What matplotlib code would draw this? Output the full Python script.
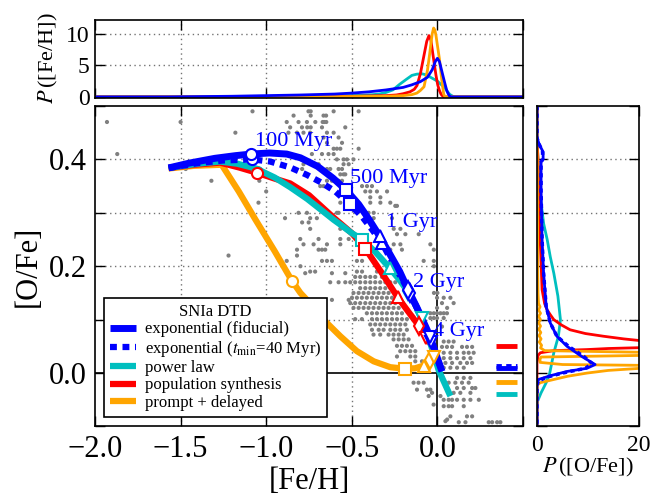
import matplotlib
matplotlib.use("Agg")
import matplotlib.pyplot as plt
from matplotlib.ticker import FixedLocator, FuncFormatter, NullFormatter

plt.rcParams['font.family'] = ['Liberation Serif', 'DejaVu Serif']
plt.rcParams['mathtext.fontset'] = 'stix'
plt.rcParams['axes.unicode_minus'] = True

BLUE = '#0000ff'
CYAN = '#00bfbf'
RED = '#ff0000'
ORANGE = '#ffa500'
GREY = '#808080'

# ---------------- evolution tracks in the [Fe/H]-[O/Fe] plane ----------------
blue_feh = [-1.57, -1.45, -1.30, -1.18, -1.089, -0.98, -0.88, -0.80, -0.70, -0.61,
            -0.534, -0.46, -0.40, -0.337, -0.28, -0.22, -0.177, -0.12, -0.06, -0.03,
            0.0, 0.027]
blue_ofe = [0.384, 0.393, 0.402, 0.407, 0.410, 0.412, 0.410, 0.403, 0.387, 0.365,
            0.343, 0.316, 0.288, 0.256, 0.224, 0.190, 0.160, 0.123, 0.081, 0.056,
            0.028, 0.003]

bluemin_feh = [-1.57, -1.40, -1.25, -1.08, -0.977, -0.86, -0.762, -0.68, -0.596,
               -0.513, -0.44, -0.38, -0.323, -0.25, -0.16, -0.10, -0.04, 0.0, 0.027]
bluemin_ofe = [0.384, 0.393, 0.398, 0.400, 0.396, 0.385, 0.371, 0.357, 0.340,
               0.316, 0.293, 0.268, 0.243, 0.200, 0.150, 0.108, 0.058, 0.026, 0.005]

cyan_feh = [-1.57, -1.40, -1.27, -1.17, -1.06, -0.95, -0.86, -0.76, -0.665, -0.606,
            -0.567, -0.50, -0.44, -0.36, -0.279, -0.22, -0.174, -0.13, -0.09, -0.04,
            0.008, 0.076]
cyan_ofe = [0.384, 0.392, 0.396, 0.392, 0.383, 0.366, 0.348, 0.326, 0.302, 0.287,
            0.278, 0.262, 0.250, 0.226, 0.197, 0.174, 0.153, 0.129, 0.103, 0.055,
            0.005, -0.043]

red_feh = [-1.57, -1.42, -1.27, -1.16, -1.054, -0.95, -0.86, -0.75, -0.606, -0.50,
           -0.421, -0.33, -0.232, -0.17, -0.109, -0.064, -0.03]
red_ofe = [0.384, 0.390, 0.394, 0.385, 0.375, 0.364, 0.355, 0.333, 0.291, 0.262,
           0.233, 0.190, 0.142, 0.115, 0.089, 0.066, 0.050]

orange_feh = [-1.57, -1.42, -1.26, -1.16, -1.064, -0.95, -0.85, -0.80, -0.762, -0.665,
              -0.567, -0.47, -0.372, -0.275, -0.187, -0.13, -0.08, -0.045, -0.018, 0.0]
orange_ofe = [0.383, 0.388, 0.390, 0.340, 0.288, 0.228, 0.173, 0.150, 0.137, 0.100,
              0.069, 0.041, 0.022, 0.011, 0.008, 0.009, 0.014, 0.023, 0.030, 0.036]

# ages marked along each track
age_labels = ['100 Myr', '500 Myr', '1 Gyr', '2 Gyr', '4 Gyr']
age_symbols = ['o', 's', '^', 'd', 'v']
blue_age_feh = [-1.089, -0.534, -0.337, -0.170, -0.045]
blue_age_ofe = [0.410, 0.343, 0.256, 0.155, 0.068]
bluemin_age_feh = [-1.08, -0.513, -0.323, -0.160, -0.040]
bluemin_age_ofe = [0.400, 0.316, 0.243, 0.150, 0.058]
cyan_age_feh = [-1.056, -0.44, -0.279, -0.174, -0.09]
cyan_age_ofe = [0.377, 0.250, 0.197, 0.153, 0.103]
red_age_feh = [-1.054, -0.421, -0.232, -0.109, -0.064]
red_age_ofe = [0.375, 0.233, 0.142, 0.089, 0.066]
orange_age_feh = [-0.85, -0.187, -0.08, -0.045, -0.018]
orange_age_ofe = [0.173, 0.008, 0.014, 0.025, 0.030]

# age label anchor points (left edge, vertical centre)
label_feh = [-1.065, -0.512, -0.300, -0.145, -0.024]
label_ofe = [0.433, 0.365, 0.282, 0.169, 0.077]

# present-day [O/Fe] of each model
final_ofe_red = 0.051
final_ofe_blue = 0.010
final_ofe_bluemin = 0.0125
final_ofe_orange = -0.017
final_ofe_cyan = -0.040
final_feh_span = [0.343, 0.465]

# ---------------- observed stars ----------------
star_ofe_levels = [0.49, 0.482, 0.47, 0.46, 0.45, 0.441, 0.431, 0.42, 0.41, 0.40,
                   0.391, 0.382, 0.372, 0.36, 0.35, 0.34, 0.329, 0.319, 0.313, 0.30,
                   0.29, 0.282, 0.27, 0.26, 0.251, 0.241, 0.231, 0.22, 0.21, 0.20,
                   0.19, 0.187, 0.18, 0.17, 0.159, 0.15, 0.141, 0.137, 0.131, 0.122,
                   0.112, 0.103, 0.101, 0.091, 0.087, 0.081, 0.072, 0.063, 0.059, 0.051,
                   0.049, 0.041, 0.038, 0.031, 0.028, 0.022, 0.019, 0.010, -0.009, -0.018,
                   -0.028, -0.031, -0.037, -0.043, -0.050, -0.059, -0.062, -0.081, -0.087,
                   -0.090, -0.092]
star_feh_rows = [
    [-1.08, -0.753, -0.74, -0.606, -0.46],
    [-0.84, -0.74, -0.665, -0.65],
    [-1.93, -1.50, -0.88, -0.811, -0.762, -0.713, -0.67, -0.661, -0.649],
    [-0.86, -0.791, -0.76, -0.74, -0.674, -0.538],
    [-1.18, -0.87, -0.82, -0.782, -0.743, -0.645, -0.606],
    [-0.665, -0.577],
    [-0.645, -0.557],
    [-0.606, -0.587, -0.567, -0.46],
    [-1.87, -0.733, -0.674, -0.636, -0.606],
    [-0.587, -0.548, -0.528, -0.49],
    [-0.782, -0.694, -0.548, -0.518],
    [-1.47, -0.79, -0.684, -0.645, -0.626, -0.577, -0.557],
    [-0.567, -0.548, -0.538],
    [-1.32, -1.04, -0.645, -0.616, -0.577, -0.557],
    [-0.684, -0.665, -0.44, -0.411, -0.382],
    [-1.00, -0.421, -0.392, -0.353, -0.294],
    [-0.392, -0.333],
    [-1.045, -0.733, -0.567, -0.392, -0.333, -0.275],
    [-0.246, -0.236],
    [-0.811, -0.762, -0.645, -0.587, -0.577, -0.402, -0.372],
    [-0.89, -0.743, -0.704, -0.616, -0.372, -0.265],
    [-0.79, -0.752, -0.587],
    [-0.743, -0.567, -0.255, -0.216],
    [-0.236, -0.187, -0.109],
    [-0.801, -0.694, -0.567, -0.518],
    [-0.782, -0.723, -0.645, -0.567, -0.255, -0.216, -0.041],
    [-0.82, -0.694, -0.674, -0.655, -0.275, -0.207, -0.021],
    [-1.22, -0.82],
    [-0.88, -0.674, -0.645, -0.616, -0.47, -0.44, -0.08, -0.021],
    [-0.80, -0.02],
    [-0.743, -0.714, -0.47, -0.44, -0.353, -0.285, -0.236],
    [-0.772, -0.616, -0.538],
    [-0.48, -0.451, -0.421, -0.392, -0.363, -0.324],
    [-0.626, -0.577, -0.538, -0.509, -0.480, -0.451, -0.421, -0.392, -0.363, -0.334,
     -0.304, -0.275, -0.246],
    [-0.451, -0.421, -0.392, -0.363, -0.334, -0.304, -0.275],
    [-0.490, -0.460, -0.431, -0.402, -0.373, -0.343, -0.314, -0.285, -0.02, 0.0],
    [-0.499, -0.470, -0.441, -0.412, -0.382, -0.353, -0.324, -0.295, -0.265, -0.002,
     0.037, 0.076],
    [-0.616, -0.518],
    [-0.509, -0.480, -0.451, -0.421, -0.392, -0.363, -0.334, -0.304, -0.275, -0.246,
     0.027, 0.095],
    [-0.490, -0.460, -0.431, -0.402, -0.373, -0.343, -0.314, -0.285, -0.256, -0.226,
     -0.002, 0.057],
    [-0.412, -0.382, -0.353, -0.324, -0.295, -0.265, -0.236, -0.207, -0.041, -0.021,
     -0.002, 0.018, 0.037, 0.056],
    [-0.041, -0.021, -0.002, 0.037],
    [-0.480, -0.441, -0.382, -0.353, -0.324, -0.295, -0.265, -0.236, -0.207, -0.178],
    [-0.392, -0.363, -0.334, -0.304, -0.275, -0.246, -0.217, -0.187],
    [0.027],
    [-0.382, -0.343, -0.314, -0.275, -0.246, -0.217, -0.178],
    [-0.373, -0.334, -0.285, -0.256, -0.226, -0.197],
    [-0.256, -0.226, -0.197, -0.168],
    [0.037, 0.066, 0.095],
    [-0.236, -0.207, -0.178, -0.148],
    [0.027, 0.056, 0.086, 0.144, 0.173, 0.203],
    [-0.217, -0.187, -0.158, -0.129],
    [0.037, 0.076, 0.115, 0.154, 0.183, 0.212],
    [-0.236, -0.158, -0.129],
    [0.037, 0.076, 0.115, 0.154, 0.193],
    [-0.129, -0.090],
    [0.047, 0.086, 0.134, 0.173, 0.203],
    [0.037, 0.076, 0.115, 0.154],
    [0.115, 0.154, 0.193],
    [-0.139, -0.110, -0.080, 0.066, 0.105, 0.144, 0.183],
    [0.115, 0.154, 0.203, 0.222],
    [-0.119, -0.061, -0.041],
    [-0.031, 0.095, 0.134, 0.193],
    [-0.051, 0.018],
    [0.037, 0.066, 0.086, 0.115, 0.154, 0.193, 0.242],
    [-0.022],
    [0.037, 0.066, 0.086, 0.154],
    [0.076, 0.173, 0.203],
    [0.057],
    [0.047],
    [0.125, 0.164, 0.300, 0.320, 0.349, 0.368],
]
star_feh = [x for row in star_feh_rows for x in row]
star_ofe = [y for y, row in zip(star_ofe_levels, star_feh_rows) for _ in row]

# ---------------- metallicity distributions (top panel) ----------------
blue_mdf_feh = [-2.0, -1.57, -1.2, -1.0, -0.8, -0.6, -0.5, -0.4, -0.3, -0.2, -0.15, -0.1,
                -0.058, -0.03, -0.012, 0.0, 0.012, 0.022, 0.032, 0.045, 0.055, 0.063,
                0.072, 0.08, 0.5]
blue_mdf = [0, 0, 0.1, 0.2, 0.3, 0.45, 0.6, 0.8, 1.1, 1.5, 1.9, 2.4, 3.1, 4.3, 5.6, 6.1,
            5.6, 4.5, 3.4, 2.0, 1.0, 0.5, 0.1, 0, 0]
cyan_mdf_feh = [-2.0, -1.27, -0.9, -0.6, -0.45, -0.38, -0.34, -0.3, -0.26, -0.22, -0.18,
                -0.149, -0.12, -0.089, -0.06, -0.04, -0.02, 0.0, 0.02, 0.042, 0.06,
                0.072, 0.09, 0.102, 0.5]
cyan_mdf = [0, 0, 0.05, 0.15, 0.25, 0.35, 0.45, 0.7, 1.1, 2.0, 2.8, 3.4, 3.6, 3.65, 3.45,
            3.1, 2.8, 2.5, 2.0, 1.5, 0.8, 0.4, 0.1, 0, 0]
red_mdf_feh = [-2.0, -1.27, -0.8, -0.5, -0.3, -0.24, -0.2, -0.16, -0.135, -0.119, -0.099,
               -0.078, -0.062, -0.049, -0.038, -0.028, -0.018, -0.008, 0.002, 0.012,
               0.022, 0.032, 0.04, 0.5]
red_mdf = [0, 0, 0.05, 0.1, 0.2, 0.3, 0.5, 0.8, 1.2, 1.8, 3.7, 6.6, 8.8, 9.7, 9.0, 7.1,
           5.2, 3.4, 1.9, 1.0, 0.4, 0.1, 0, 0]
orange_mdf_feh = [-2.0, -1.26, -0.8, -0.5, -0.3, -0.2, -0.15, -0.12, -0.1, -0.078, -0.058,
                  -0.045, -0.038, -0.03, -0.022, -0.015, -0.008, 0.0, 0.012, 0.02, 0.028,
                  0.037, 0.045, 0.5]
orange_mdf = [0, 0, 0.03, 0.06, 0.1, 0.2, 0.35, 0.6, 1.0, 1.6, 4.2, 6.8, 8.4, 10.0, 10.9,
              10.6, 9.7, 8.2, 6.0, 4.0, 2.2, 0.4, 0, 0]

# ---------------- [O/Fe] distributions (right panel) ----------------
blue_podf_ofe = [0.5, 0.44, 0.427, 0.414, 0.40, 0.395, 0.343, 0.25, 0.187, 0.125, 0.094,
                 0.069, 0.05, 0.031, 0.016, 0.009, 0.003, -0.005, -0.012, -0.022, -0.1]
blue_podf = [0, 0, 0.5, 1.2, 1.2, 0.8, 0.8, 1.0, 1.3, 1.8, 2.6, 3.9, 5.9, 8.8, 11.4, 9.8,
             5.9, 2.6, 0.3, 0, 0]
bluemin_podf_ofe = [0.5, 0.44, 0.427, 0.414, 0.40, 0.395, 0.343, 0.25, 0.187, 0.125,
                    0.094, 0.069, 0.05, 0.031, 0.018, 0.009, 0.0, -0.008, -0.015, -0.022,
                    -0.1]
bluemin_podf = [0, 0, 0.5, 1.1, 1.1, 0.8, 0.8, 1.0, 1.3, 1.8, 2.6, 3.9, 6.2, 9.2, 10.8,
                9.5, 5.0, 1.8, 0.3, 0, 0]
cyan_podf_ofe = [0.5, 0.44, 0.427, 0.40, 0.343, 0.28, 0.25, 0.218, 0.187, 0.144, 0.10,
                 0.069, 0.038, 0.0, -0.018, -0.037, -0.053, -0.06, -0.1]
cyan_podf = [0, 0, 0.05, 0.2, 0.5, 1.3, 2.0, 2.6, 3.3, 4.1, 4.6, 4.2, 3.3, 2.5, 1.8, 0.8,
             0.1, 0, 0]
red_podf_ofe = [0.5, 0.44, 0.40, 0.34, 0.28, 0.22, 0.156, 0.13, 0.118, 0.108, 0.10, 0.09,
                0.081, 0.074, 0.069, 0.064, 0.061, 0.057, 0.052, 0.048, 0.046, 0.044,
                0.042, 0.038, 0.033, 0.025, 0.02, -0.1]
red_podf = [0, 0, 0.2, 0.35, 0.5, 0.75, 1.0, 1.5, 2.0, 2.7, 3.3, 4.8, 6.5, 9.5, 13, 17, 20,
            26, 30, 22, 14, 9.8, 3.3, 0.65, 0.2, 0.1, 0, 0]
orange_podf_ofe = [0.5, 0.40, 0.30, 0.20, 0.15, 0.13, 0.124, 0.118, 0.112, 0.106, 0.100,
                   0.094, 0.088, 0.082, 0.076, 0.070, 0.064, 0.058, 0.052, 0.047, 0.042,
                   0.039, 0.036, 0.033, 0.030, 0.026, 0.020, 0.016, 0.013, 0.010, 0.005,
                   0.0, -0.006, -0.012, -0.018, -0.022, -0.1]
orange_podf = [0, 0.05, 0.1, 0.15, 0.2, 0.3, 0.6, 0.3, 0.7, 0.3, 0.7, 0.3, 0.7, 0.35, 0.75,
               0.4, 0.8, 0.45, 0.9, 0.7, 1.5, 20, 45, 20, 0.8, 0.6, 0.6, 5, 35, 22, 14,
               9.8, 6, 3.3, 0.65, 0.1, 0]

# ---------------- figure layout ----------------
fig = plt.figure(figsize=(6.52, 4.95), dpi=100)
ax = fig.add_axes([0.1457, 0.1384, 0.6564, 0.6475])
axt = fig.add_axes([0.1457, 0.803, 0.6564, 0.157])
axr = fig.add_axes([0.8236, 0.1384, 0.1564, 0.6475])

dot = (0, (1, 2.5))
for a in (ax, axt, axr):
    for s in a.spines.values():
        s.set_linewidth(1.2)
    a.tick_params(which='both', direction='in', top=True, right=True,
                  length=7, width=1.0)

# ---- main panel ----
ax.set_xlim(-2.0, 0.5)
ax.set_ylim(-0.1, 0.5)
for gx in (-1.5, -1.0, -0.5):
    ax.axvline(gx, color='0.45', lw=1.0, ls=dot, zorder=0)
for gy in (0.1, 0.2, 0.3, 0.4):
    ax.axhline(gy, color='0.45', lw=1.0, ls=dot, zorder=0)
ax.axvline(0.0, color='black', lw=1.2, zorder=0.5)
ax.axhline(0.0, color='black', lw=1.2, zorder=0.5)

ax.scatter(star_feh, star_ofe, s=9, color=GREY, edgecolors='none', zorder=1)

track_lw = 4.5
l_or, = ax.plot(orange_feh, orange_ofe, color=ORANGE, lw=track_lw, zorder=2,
                solid_capstyle='butt')
l_red, = ax.plot(red_feh, red_ofe, color=RED, lw=track_lw, zorder=3,
                 solid_capstyle='butt')
l_cy, = ax.plot(cyan_feh, cyan_ofe, color=CYAN, lw=track_lw, zorder=4,
                solid_capstyle='butt')
l_bm, = ax.plot(bluemin_feh, bluemin_ofe, color=BLUE, lw=track_lw, zorder=5,
                ls=(0, (1.1, 0.9)), dash_capstyle='butt')
l_bl, = ax.plot(blue_feh, blue_ofe, color=BLUE, lw=track_lw + 0.5, zorder=6,
                solid_capstyle='butt')

age_sets = [
    (orange_age_feh, orange_age_ofe, ORANGE),
    (cyan_age_feh, cyan_age_ofe, CYAN),
    (red_age_feh, red_age_ofe, RED),
    (bluemin_age_feh, bluemin_age_ofe, BLUE),
    (blue_age_feh, blue_age_ofe, BLUE),
]
for k, (fx, fy, col) in enumerate(age_sets):
    for x, y, m in zip(fx, fy, age_symbols):
        ax.plot([x], [y], marker=m, ms=9 if m == 'd' else 8, mfc='white', mec=col,
                mew=1.5, ls='none', zorder=8 + k)

for txt, x, y in zip(age_labels, label_feh, label_ofe):
    ax.text(x, y, txt, color=BLUE, fontsize=16, ha='left', va='center', zorder=15)

ax.plot(final_feh_span, [final_ofe_red] * 2, color=RED, lw=3.5, solid_capstyle='butt')
ax.plot(final_feh_span, [final_ofe_blue] * 2, color=BLUE, lw=3.5, solid_capstyle='butt')
ax.plot(final_feh_span, [final_ofe_bluemin] * 2, color=BLUE, lw=3.5,
        ls=(0, (1.1, 0.9)), dash_capstyle='butt')
ax.plot(final_feh_span, [final_ofe_orange] * 2, color=ORANGE, lw=3.5, solid_capstyle='butt')
ax.plot(final_feh_span, [final_ofe_cyan] * 2, color=CYAN, lw=3.5, solid_capstyle='butt')


def fmt_num(v, nd=1):
    s = f"{v:.{nd}f}"
    if s.startswith('-') and float(s) == 0:
        s = s[1:]
    return s.replace('-', '\u2212')


ax.xaxis.set_major_locator(FixedLocator([-2.0, -1.5, -1.0, -0.5, 0.0, 0.5]))
ax.xaxis.set_major_formatter(FuncFormatter(lambda v, p: '' if v > 0.25 else fmt_num(v)))
ax.yaxis.set_major_locator(FixedLocator([-0.1, 0.0, 0.1, 0.2, 0.3, 0.4, 0.5]))
ax.yaxis.set_major_formatter(FuncFormatter(
    lambda v, p: fmt_num(v) if round(v * 10) in (0, 2, 4) else ''))
ax.tick_params(labelsize=22, pad=6)
ax.set_xlabel('[Fe/H]', fontsize=22, labelpad=2)
ax.set_ylabel('[O/Fe]', fontsize=22, labelpad=4)

leg = ax.legend([l_bl, l_bm, l_cy, l_red, l_or],
                ['exponential (fiducial)', r'exponential ($t_{\rm min}$=40 Myr)',
                 'power law', 'population synthesis', 'prompt + delayed'],
                loc='lower left', bbox_to_anchor=(0.021, 0.031), borderaxespad=0,
                fontsize=12, title='SNIa DTD', title_fontsize=12, fancybox=False,
                framealpha=1, edgecolor='black', handlelength=1.6, labelspacing=0.08,
                borderpad=0.35, handletextpad=0.5)
leg.get_frame().set_linewidth(1.2)
leg.set_zorder(20)

# ---- top panel: [Fe/H] distributions ----
axt.set_xlim(-2.0, 0.5)
axt.set_ylim(-0.1, 12.2)
for gx in (-1.5, -1.0, -0.5):
    axt.axvline(gx, color='0.45', lw=1.0, ls=dot, zorder=0)
for gy in (5, 10):
    axt.axhline(gy, color='0.45', lw=1.0, ls=dot, zorder=0)
axt.plot(cyan_mdf_feh, cyan_mdf, color=CYAN, lw=2)
axt.plot(red_mdf_feh, red_mdf, color=RED, lw=2)
axt.plot(orange_mdf_feh, orange_mdf, color=ORANGE, lw=2)
axt.plot(blue_mdf_feh, blue_mdf, color=BLUE, lw=2)
axt.xaxis.set_major_locator(FixedLocator([-2.0, -1.5, -1.0, -0.5, 0.0, 0.5]))
axt.xaxis.set_major_formatter(NullFormatter())
axt.yaxis.set_major_locator(FixedLocator([0, 5, 10]))
axt.tick_params(labelsize=17, pad=4)
axt.set_ylabel(r'$P\,$([Fe/H])', fontsize=16, labelpad=4)

# ---- right panel: [O/Fe] distributions ----
axr.set_xlim(0, 20)
axr.set_ylim(-0.1, 0.5)
for gy in (0.1, 0.2, 0.3, 0.4):
    axr.axhline(gy, color='0.45', lw=1.0, ls=dot, zorder=0)
axr.plot(cyan_podf, cyan_podf_ofe, color=CYAN, lw=2)
axr.plot(red_podf, red_podf_ofe, color=RED, lw=2)
axr.plot(orange_podf, orange_podf_ofe, color=ORANGE, lw=2)
axr.plot(blue_podf, blue_podf_ofe, color=BLUE, lw=2)
axr.plot(bluemin_podf, bluemin_podf_ofe, color=BLUE, lw=2.5, ls=(0, (1.2, 1.0)))
axr.xaxis.set_major_locator(FixedLocator([0, 20]))
axr.yaxis.set_major_locator(FixedLocator([-0.1, 0.0, 0.1, 0.2, 0.3, 0.4, 0.5]))
axr.yaxis.set_major_formatter(NullFormatter())
axr.tick_params(labelsize=17, pad=6)
axr.set_xlabel(r'$P\,$([O/Fe])', fontsize=16, labelpad=0)

fig.savefig('out.png', dpi=100)
